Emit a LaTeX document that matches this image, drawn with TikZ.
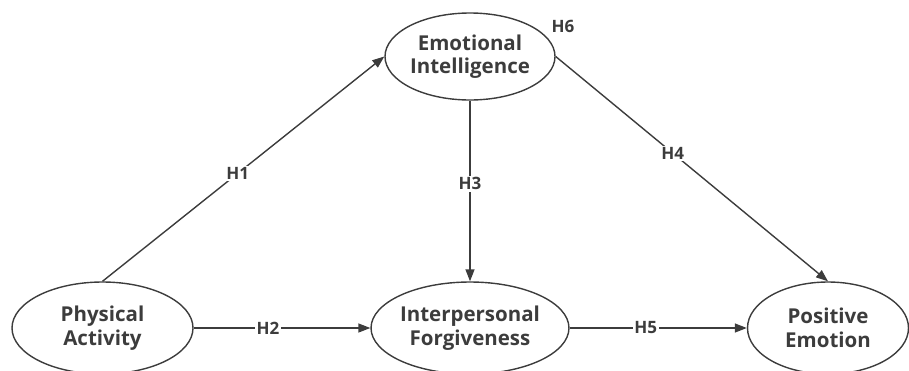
\documentclass[tikz,border=0pt]{standalone}
\usepackage{fontspec}
\setmainfont{Open Sans}
\usetikzlibrary{shapes.geometric,arrows.meta}
\definecolor{ink}{HTML}{3C3C3C}
\tikzset{
  var/.style={draw=ink, line width=1.4pt, ellipse, inner sep=0pt, align=center,
    text=ink, font=\fontsize{20.5}{23.5}\selectfont\bfseries},
  link/.style={draw=ink, line width=1.4pt, -{Triangle[length=12pt,width=9pt]}},
  hlab/.style={fill=white, text=ink, inner sep=1.5pt, font=\fontsize{17}{19}\selectfont\bfseries}
}
\begin{document}
\begin{tikzpicture}[x=1pt,y=-1pt]
\useasboundingbox (0,0) rectangle (909,370);
\node[var, minimum width=170pt, minimum height=87pt] (ei) at (470,56.5) {Emotional\\Intelligence};
\node[var, minimum width=181pt, minimum height=92pt] (pa) at (102.5,328) {Physical\\Activity};
\node[var, minimum width=180pt, minimum height=92pt] (if) at (470,328) {Interpersonal\\Forgiveness};
\node[var, minimum width=161pt, minimum height=92pt] (pe) at (828,328) {Positive\\Emotion};
\draw[link] (pa.north) -- node[hlab, pos=0.48] {H1} (ei.west);
\draw[link] (pa.east) -- node[hlab, pos=0.42] {H2} (if.west);
\draw[link] (ei.south) -- node[hlab, pos=0.46] {H3} (if.north);
\draw[link] (ei.east) -- node[hlab, pos=0.43] {H4} (pe.north);
\draw[link] (if.east) -- node[hlab, pos=0.43] {H5} (pe.west);
\node[hlab, fill=none] (h6) at (563,26) {H6};
\end{tikzpicture}
\end{document}
